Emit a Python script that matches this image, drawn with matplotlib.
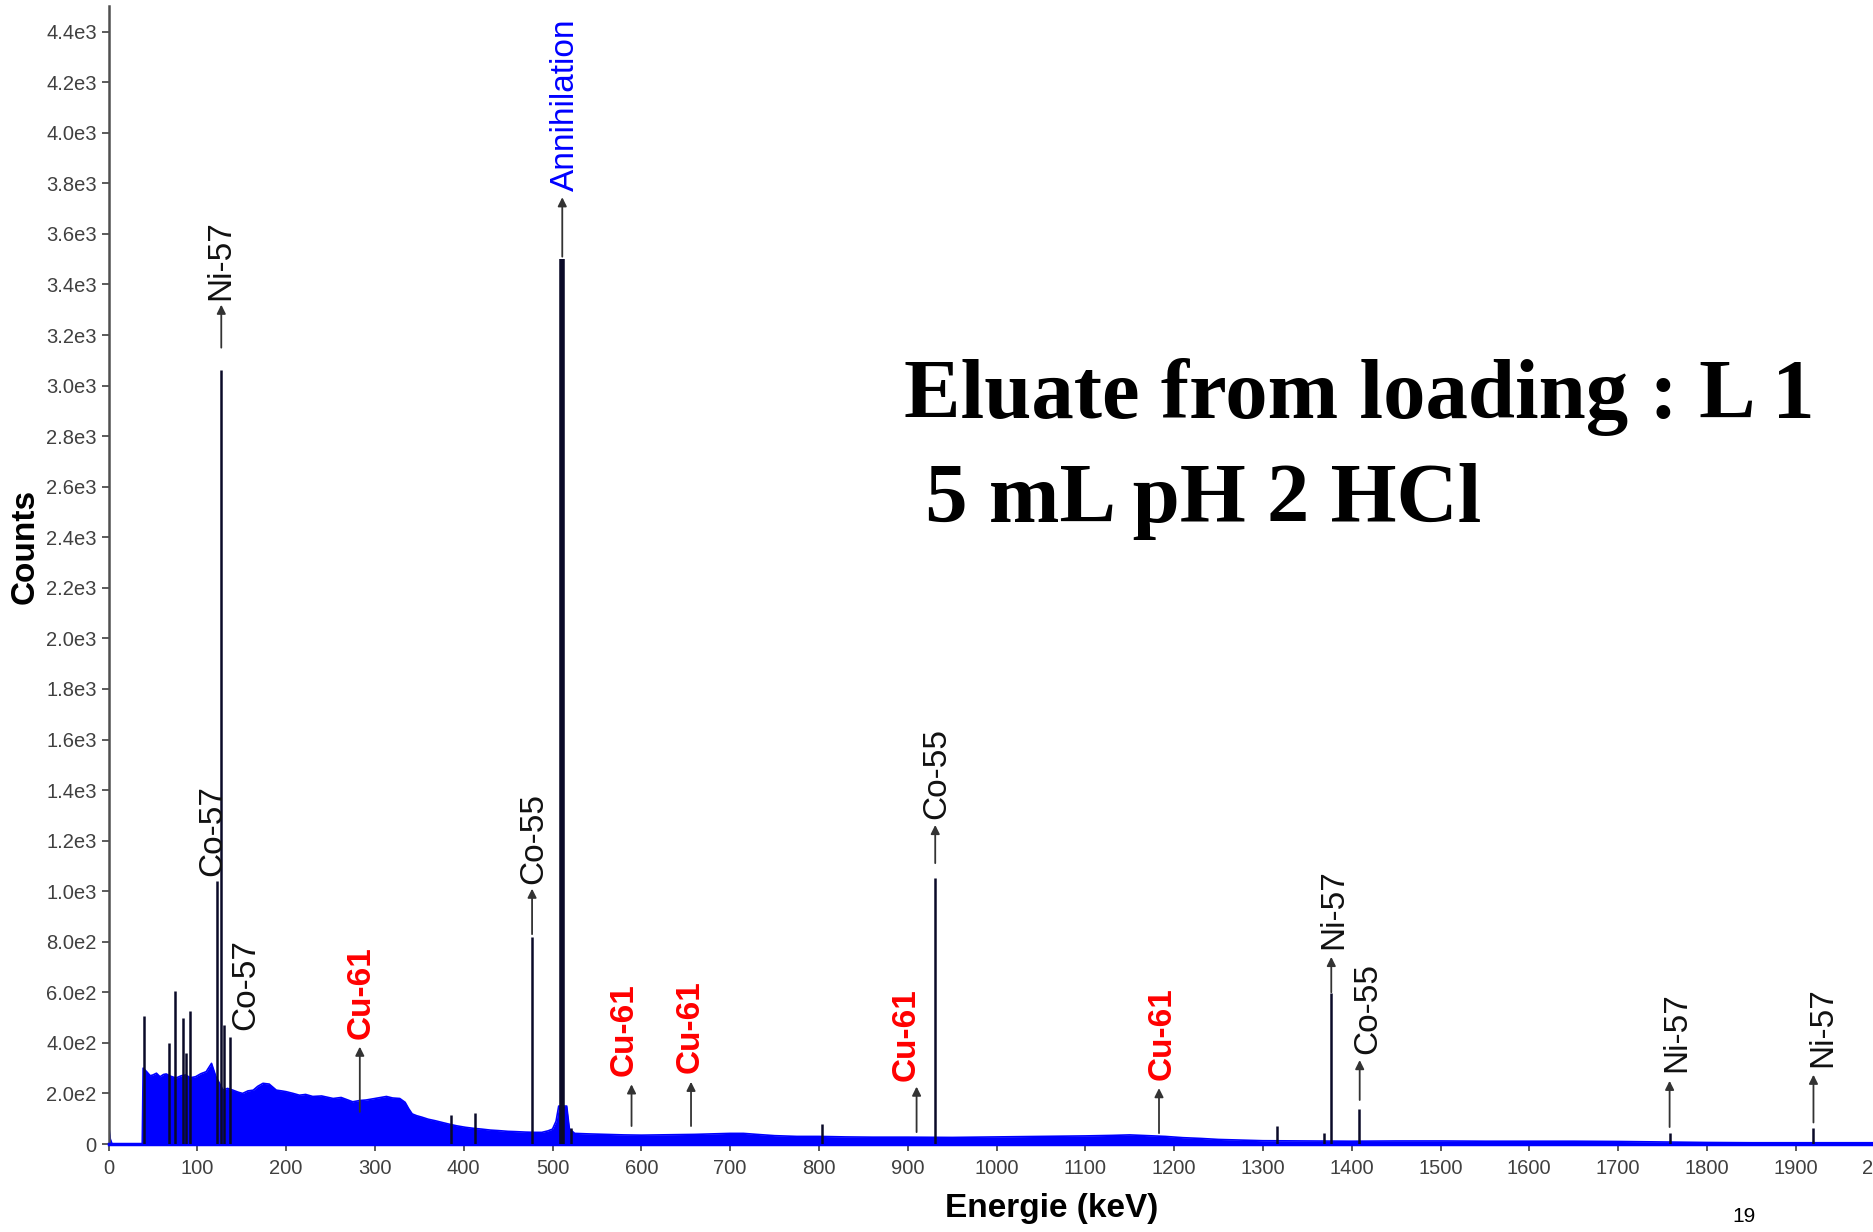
import matplotlib.pyplot as plt

# continuum of the spectrum (energy keV, counts)
cont_e = [0, 2, 4, 38, 39, 43, 47, 50, 54, 58, 62, 65, 70, 76, 82, 87, 92, 98, 104, 110,
          116, 121, 125, 129, 134, 140, 146, 151, 157, 163, 168, 174, 181, 185, 189, 195,
          200, 208, 215, 222, 230, 240, 253, 262, 275, 283, 290, 300, 313, 320, 328, 334,
          338, 342, 347, 353, 360, 368, 376, 383, 392, 402, 411, 420, 430, 439, 450, 458,
          470, 480, 488, 495, 500, 504, 507, 516, 519, 525, 540, 560, 580, 600, 620, 640,
          660, 680, 700, 715, 730, 750, 775, 800, 830, 860, 900, 950, 1000, 1050, 1100,
          1130, 1150, 1170, 1190, 1210, 1230, 1250, 1280, 1300, 1350, 1400, 1450, 1500,
          1550, 1600, 1650, 1700, 1750, 1800, 1850, 1900, 1950, 2000, 2050]
cont_c = [80, 20, 0, 0, 300, 286, 270, 273, 280, 266, 275, 277, 268, 261, 270, 273, 262, 266, 278, 286,
          319, 266, 240, 213, 220, 213, 205, 200, 210, 213, 228, 240, 237, 225, 213, 210,
          207, 200, 193, 196, 188, 190, 180, 184, 167, 172, 174, 180, 188, 182, 180, 165,
          140, 119, 112, 106, 98, 92, 85, 79, 72, 66, 62, 59, 55, 53, 50, 49,
          47, 46, 46, 52, 59, 90, 150, 150, 60, 42, 40, 38, 36, 35, 36, 37,
          38, 40, 42, 42, 38, 33, 30, 30, 28, 27, 27, 26, 28, 30, 32,
          34, 36, 33, 30, 25, 22, 18, 15, 13, 12, 11, 12, 12,
          11, 11, 11, 10, 8, 6, 5, 5, 5, 5, 5]

# fitted peaks
peak_e = [40, 68, 75, 84, 87, 92, 122, 127, 130, 137, 386, 413, 477, 511, 521, 803,
          931, 1316, 1369, 1377, 1408, 1758, 1920]
peak_c = [505, 400, 605, 500, 360, 525, 1040, 3062, 470, 425, 115, 122, 820, 3500, 63, 78,
          1052, 72, 43, 597, 140, 43, 62]

# labels: text, peak energy, arrow start, arrow tip, text x, text bottom, colour
lab_text = ['Ni-57', 'Co-57', 'Co-57', 'Cu-61', 'Co-55', 'Annihilation', 'Cu-61', 'Cu-61',
            'Cu-61', 'Co-55', 'Cu-61', 'Ni-57', 'Co-55', 'Ni-57', 'Ni-57']
lab_e = [127, 122, 137, 283, 477, 511, 589, 656, 910, 931, 1183, 1377, 1409, 1758, 1920]
lab_from = [3150, 1040, 425, 127, 830, 3510, 71, 71, 47, 1111, 43, 600, 174, 67, 85]
lab_to = [3320, 1040, 425, 385, 1010, 3745, 236, 246, 227, 1262, 221, 740, 332, 250, 274]
lab_x = [126.5, 117, 155, 285, 479, 515, 581, 655, 898, 933, 1186, 1380, 1418, 1766, 1930]
lab_y = [3340, 1060, 450, 415, 1030, 3770, 270, 280, 250, 1285, 255, 770, 355, 285, 305]
lab_col = ['#111111', '#111111', '#111111', 'red', '#111111', '#0000ff', 'red', 'red',
           'red', '#111111', 'red', '#111111', '#111111', '#111111', '#111111']

x_ticks = list(range(0, 2001, 100))
y_ticks = list(range(0, 4401, 200))
y_labels = ['0', '2.0e2', '4.0e2', '6.0e2', '8.0e2', '1.0e3', '1.2e3', '1.4e3', '1.6e3',
            '1.8e3', '2.0e3', '2.2e3', '2.4e3', '2.6e3', '2.8e3', '3.0e3', '3.2e3', '3.4e3',
            '3.6e3', '3.8e3', '4.0e3', '4.2e3', '4.4e3']

plt.rcParams['font.family'] = ['Liberation Sans', 'DejaVu Sans']

W, H = 1873, 1232
fig = plt.figure(figsize=(W / 100, H / 100), dpi=100)
ax = fig.add_axes([108.5 / W, 88 / H, 1776 / W, 1137.6 / H])

ax.fill_between(cont_e, cont_c, 0, color='#0000ff', lw=0)
ax.plot(cont_e, cont_c, color='#0000ff', lw=1.2)
ax.axhline(0, color='#0000ff', lw=2.5, zorder=3, clip_on=False)

for e, c in zip(peak_e, peak_c):
    lw = 4 if e == 511 else 1.8
    ax.vlines(e, 0, c, color='#0a0a28', lw=lw, zorder=4)

for t, e, a0, a1, tx, ty, col in zip(lab_text, lab_e, lab_from, lab_to, lab_x, lab_y, lab_col):
    if a1 > a0:
        ax.annotate('', xy=(e, a1), xytext=(e, a0),
                    arrowprops=dict(arrowstyle='-|>', color='#333333', lw=1.3,
                                    mutation_scale=13, shrinkA=0, shrinkB=0), zorder=5)
    ax.text(tx, ty, t, rotation=90, ha='center', va='bottom', fontsize=24, color=col,
            fontweight='bold' if t == 'Cu-61' else 'normal', zorder=6)

ax.set_xlim(0, 2000)
ax.set_ylim(0, 4500)
ax.set_xticks(x_ticks)
ax.set_xticklabels([str(v) for v in x_ticks])
ax.set_yticks(y_ticks)
ax.set_yticklabels(y_labels)
ax.tick_params(axis='both', labelsize=14.5, labelcolor='#404040', color='#404040',
               length=5, width=1.2, direction='out')
ax.tick_params(axis='x', pad=6)

for s in ['top', 'right']:
    ax.spines[s].set_visible(False)
ax.spines['left'].set_color('#505050')
ax.spines['left'].set_linewidth(1.8)
ax.spines['bottom'].set_color('#505050')

ax.set_xlabel('Energie (keV)', fontsize=24, fontweight='bold')
ax.xaxis.set_label_coords(0.531, -0.043)
ax.set_ylabel('Counts', fontsize=24, fontweight='bold')
ax.yaxis.set_label_coords(-0.038, 0.525)

fig.text(904 / W, 1 - 418 / H, 'Eluate from loading : L 1', fontsize=61,
         fontweight='bold', family='Liberation Serif', va='baseline')
fig.text(904 / W, 1 - 522 / H, ' 5 mL pH 2 HCl', fontsize=61,
         fontweight='bold', family='Liberation Serif', va='baseline')
fig.text(1744 / W, 1 - 1216 / H, '19', fontsize=15, ha='center', va='center')

fig.savefig('out.png', dpi=100)
